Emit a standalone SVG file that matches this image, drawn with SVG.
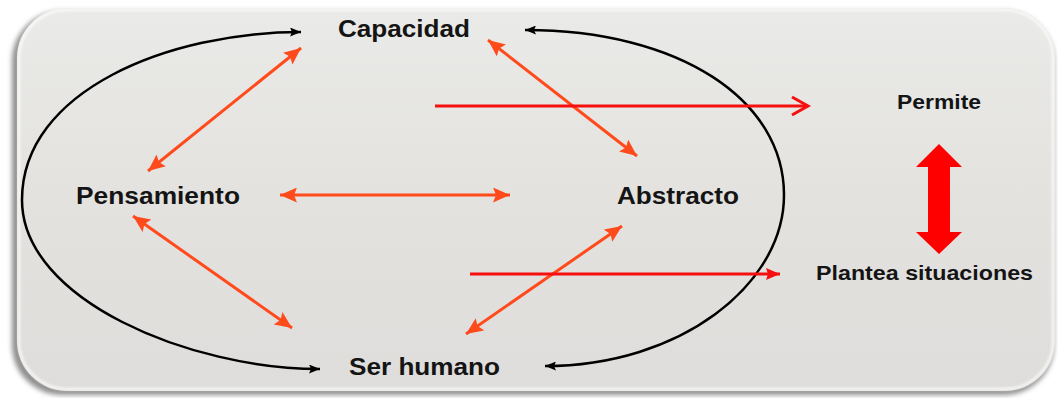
<svg xmlns="http://www.w3.org/2000/svg" width="1058" height="398" viewBox="0 0 1058 398">
  <style>
    .lbl { font-family: "Liberation Sans", Arial, sans-serif; font-weight: bold; fill: #141414; }
    .big { font-size: 24px; }
    .small { font-size: 21px; }
    .orange { stroke: #ff4a1c; stroke-width: 3; fill: none; marker-start: url(#oh); marker-end: url(#oh); }
    .curve { stroke: #000; stroke-width: 2.5; fill: none; marker-start: url(#bh); marker-end: url(#bh); }
    .red { stroke: #f50f0f; stroke-width: 3; fill: none; }
  </style>
  <defs>
    <linearGradient id="panelGrad" x1="0" y1="0" x2="0" y2="1">
      <stop offset="0" stop-color="#eaeae8"/>
      <stop offset="0.5" stop-color="#e3e2df"/>
      <stop offset="1" stop-color="#dedddb"/>
    </linearGradient>
    <filter id="blur" x="-5%" y="-5%" width="110%" height="110%">
      <feGaussianBlur stdDeviation="2.5"/>
    </filter>
    <filter id="soft" x="-5%" y="-5%" width="110%" height="110%">
      <feGaussianBlur stdDeviation="1.2"/>
    </filter>
    <marker id="oh" markerUnits="userSpaceOnUse" viewBox="0 0 17 15" markerWidth="17" markerHeight="15" refX="17" refY="7.5" orient="auto-start-reverse">
      <path d="M0,0 L17,7.5 L0,15 L3,7.5 z" fill="#ff4a1c"/>
    </marker>
    <marker id="bh" markerUnits="userSpaceOnUse" viewBox="0 0 11 9" markerWidth="11" markerHeight="9" refX="11" refY="4.5" orient="auto-start-reverse">
      <path d="M0,0 L11,4.5 L0,9 L2,4.5 z" fill="#000"/>
    </marker>
    <marker id="rhFill" markerUnits="userSpaceOnUse" viewBox="0 0 14 12" markerWidth="14" markerHeight="12" refX="14" refY="6" orient="auto">
      <path d="M0,0 L14,6 L0,12 L2,6 z" fill="#f50f0f"/>
    </marker>
  </defs>

  <rect x="0" y="0" width="1058" height="398" fill="#ffffff"/>

  <g id="panel">
    <rect x="12" y="11" width="1042" height="384" rx="50" fill="#8f8f8f" filter="url(#blur)"/>
    <rect x="17" y="8" width="1038" height="383" rx="50" fill="url(#panelGrad)"/>
    <rect x="19" y="10" width="1034" height="379" rx="48" fill="none" stroke="#ffffff" stroke-opacity="0.75" stroke-width="2.5" filter="url(#soft)"/>
  </g>

  <g id="connectors">
    <path class="curve" d="M301,32 C170,32 22,90 22,200 C22,300 190,369 320,369"/>
    <path class="curve" d="M525,30 C680,30 784,100 784,195 C784,285 680,366 545,366"/>

    <line class="orange" x1="148" y1="171" x2="301" y2="48"/>
    <line class="orange" x1="488" y1="40" x2="637" y2="156"/>
    <line class="orange" x1="280" y1="195" x2="510" y2="195"/>
    <line class="orange" x1="133" y1="216" x2="292" y2="328"/>
    <line class="orange" x1="622" y1="226" x2="466" y2="334"/>

    <line class="red" x1="435" y1="106" x2="807" y2="106"/>
    <polyline class="red" points="792,97 808,106 792,115"/>
    <line class="red" x1="470" y1="274" x2="780" y2="274" marker-end="url(#rhFill)"/>

    <path d="M939,144 L962,167 L950,167 L950,232 L962,232 L939,254 L916,232 L928,232 L928,167 L916,167 z" fill="#ff0000"/>
  </g>

  <g id="node-capacidad"><text class="lbl big" x="338" y="37" textLength="132" lengthAdjust="spacingAndGlyphs">Capacidad</text></g>
  <g id="node-pensamiento"><text class="lbl big" x="76" y="204" textLength="164" lengthAdjust="spacingAndGlyphs">Pensamiento</text></g>
  <g id="node-abstracto"><text class="lbl big" x="617" y="204" textLength="122" lengthAdjust="spacingAndGlyphs">Abstracto</text></g>
  <g id="node-ser-humano"><text class="lbl big" x="349" y="375" textLength="151" lengthAdjust="spacingAndGlyphs">Ser humano</text></g>
  <g id="node-permite"><text class="lbl small" x="897" y="109" textLength="84" lengthAdjust="spacingAndGlyphs">Permite</text></g>
  <g id="node-plantea"><text class="lbl small" x="816" y="280" textLength="217" lengthAdjust="spacingAndGlyphs">Plantea situaciones</text></g>
</svg>
